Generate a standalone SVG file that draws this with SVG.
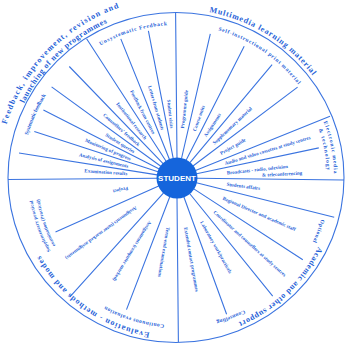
<svg xmlns="http://www.w3.org/2000/svg" width="353" height="347" viewBox="0 0 353 347">
<style>
.sp{stroke:#3b74e0;stroke-width:1.1;fill:none}
.lb{font-family:"Liberation Serif",serif;font-weight:bold;font-size:5px;fill:#1f5fd8}
.cat{font-family:"Liberation Serif",serif;font-weight:bold;font-size:8px;fill:#1f5fd8}
.sub{font-family:"Liberation Serif",serif;font-weight:bold;font-size:5.5px;fill:#1f5fd8}
</style>
<defs>
<path id="pFb1" d="M6.5,124.5 A180,180 0 0 1 121.4,6.8"/>
<path id="pFb2" d="M24.2,103.5 A170,170 0 0 1 110.6,21.5"/>
<path id="pMm" d="M209.2,12.1 A170,170 0 0 1 314.5,78.1"/>
<path id="pAc" d="M318.1,246.8 A157,157 0 0 1 235.8,323.6"/>
<path id="pEv" d="M149.7,332.6 A157,157 0 0 1 38.4,251.7"/>
<path id="pUf" d="M100.5,45.5 A153,153 0 0 1 169,25.2"/>
<path id="pSf" d="M28,135.3 A155,155 0 0 1 47,93.6"/>
<path id="pSi" d="M218.2,30.4 A153,153 0 0 1 299.2,86"/>
<path id="pEm1" d="M323.6,121.7 A157,157 0 0 1 334,175.3"/>
<path id="pEm2" d="M318.8,129.2 A150,150 0 0 1 326.9,172.8"/>
<path id="pOp" d="M321.2,219.3 A150,150 0 0 1 306.9,253"/>
<path id="pCo" d="M244.2,309.9 A148,148 0 0 1 205.2,323.3"/>
<path id="pCe" d="M164.2,324.4 A147,147 0 0 1 92.7,298.4"/>
<path id="pSu1" d="M50.6,251 A146,146 0 0 1 32.4,198.3"/>
<path id="pSu2" d="M55.4,245.4 A139,139 0 0 1 39.3,197.3"/>
</defs>
<rect width="353" height="347" fill="#fff"/>
<g id="connectors">
<ellipse class="sp" cx="176" cy="177.5" rx="168" ry="165"/>
<path class="sp" d="M157,178.2L8,179.5M157.2,174.9L19,153M158,171.8L34.3,131.6M159.2,168.9L43.4,109.9M160.8,166.2L51.6,86.9M163.1,163.6L69.3,66.5M166.1,161.2L86.6,38.8M169.5,159.5L120.8,38.9M173.2,158.4L148.4,30.8M177,158L175.6,13M181.5,158.5L210.3,33.8M186.1,160.2L244.2,46.2M189.9,162.7L272.1,64.6M193,166L297.6,87.1M195.5,170.5L330,116.2M196.6,173.8L318.8,147.9M197,178.2L344,180M196.4,182.8L334.2,217.2M193.8,188.9L302.8,259.7M189.6,193.5L272.7,296.1M183.8,196.8L226.6,314.3M177,198L178.4,342M169.8,196.7L126.5,309.6M163.6,192.9L69.9,296.9M158.7,186.1L55.5,232.1"/>
</g>
<g id="categories">
<text class="cat"><textPath href="#pFb1" textLength="168">Feedback, improvement, revision and</textPath></text>
<text class="cat"><textPath href="#pFb2" textLength="118">launching of new programmes</textPath></text>
<text class="cat"><textPath href="#pMm" textLength="124">Multimedia learning material</textPath></text>
<text class="cat"><textPath href="#pAc" textLength="112">Academic and other support</textPath></text>
<text class="cat"><textPath href="#pEv" textLength="138">Evaluation - methods and modes</textPath></text>
</g>
<g id="subgroups">
<text class="sub"><textPath href="#pUf" textLength="70">Unsystematic Feedback</textPath></text>
<text class="sub"><textPath href="#pSf" textLength="44">Systematic feedback</textPath></text>
<text class="sub"><textPath href="#pSi" textLength="98">Self-instructional print material</textPath></text>
<text class="sub"><textPath href="#pEm1" textLength="53">Electronic media</textPath></text>
<text class="sub"><textPath href="#pEm2" textLength="42">&amp; technology</textPath></text>
<text class="sub"><textPath href="#pOp" textLength="24">Optional</textPath></text>
<text class="sub"><textPath href="#pCo" textLength="30">Counselling</textPath></text>
<text class="sub"><textPath href="#pCe" textLength="62">Continuous evaluation</textPath></text>
<text class="sub" style="font-size:4.8px"><textPath href="#pSu1" textLength="54">Supplementary practical</textPath></text>
<text class="sub" style="font-size:4.8px"><textPath href="#pSu2" textLength="49">examination (Practical)</textPath></text>
</g>
<g id="student">
<circle cx="177" cy="178" r="20.5" fill="#1565dc"/>
<text x="177" y="181" text-anchor="middle" font-family="Liberation Sans,Arial,sans-serif" font-weight="bold" font-size="8" fill="#fff">STUDENT</text>
</g>
<g id="labels">
<text class="lb" text-anchor="end" dy="1.7" transform="translate(127.2,173.6) rotate(4)">Examination results</text>
<text class="lb" text-anchor="end" dy="1.7" transform="translate(128.3,166.3) rotate(13.5)">Analysis of assignments</text>
<text class="lb" text-anchor="end" dy="1.7" transform="translate(130.8,158.9) rotate(22.5)">Monitoring of progress</text>
<text class="lb" text-anchor="end" dy="1.7" transform="translate(134.4,151.9) rotate(31.5)">Student queries</text>
<text class="lb" text-anchor="end" dy="1.7" transform="translate(139.3,145.2) rotate(41)">Counsellors' feedback</text>
<text class="lb" text-anchor="end" dy="1.7" transform="translate(145.9,138.9) rotate(51.5)">Institutional research</text>
<text class="lb" text-anchor="end" dy="1.7" transform="translate(153.9,133.6) rotate(62.5)">Feedback from centres</text>
<text class="lb" text-anchor="end" dy="1.7" transform="translate(162.8,130) rotate(73.5)">Letters from students</text>
<text class="lb" text-anchor="end" dy="1.7" transform="translate(171.8,128.3) rotate(84)">Student visits</text>
<text class="lb" dy="1.7" transform="translate(182.2,128.3) rotate(-84)">Programme guide</text>
<text class="lb" dy="1.7" transform="translate(194.1,131) rotate(-70)">Course units</text>
<text class="lb" dy="1.7" transform="translate(204.9,136.2) rotate(-56.5)">Assignments</text>
<text class="lb" dy="1.7" transform="translate(213.3,143.6) rotate(-43.5)">Supplementary material</text>
<text class="lb" dy="1.7" transform="translate(220.5,153.4) rotate(-29.5)">Project guide</text>
<text class="lb" dy="1.7" transform="translate(224.8,163.4) rotate(-17)">Audio and video cassettes at study centres</text>
<text class="lb" dy="1.7" transform="translate(226.7,172.8) rotate(-6)">Broadcasts - radio, television</text>
<text class="lb" dy="1.7" transform="translate(262,175) rotate(-3)">&amp; teleconferencing</text>
<text class="lb" dy="1.7" transform="translate(226.6,184.1) rotate(7)">Students affairs</text>
<text class="lb" dy="1.7" transform="translate(222.9,197.9) rotate(23.5)">Regional Director and academic staff</text>
<text class="lb" dy="1.7" transform="translate(214.2,211.5) rotate(42)">Coordinator and counsellors at study centres</text>
<text class="lb" dy="1.7" transform="translate(201.6,221.5) rotate(60.5)">Laboratory work/practicals</text>
<text class="lb" dy="1.7" transform="translate(185.7,227.2) rotate(80)">Extended contact programmes</text>
<text class="lb" dy="1.7" transform="translate(168.3,227.2) rotate(100)">Term-end examinations</text>
<text class="lb" dy="1.7" transform="translate(150.5,221.3) rotate(121.5)">Assignments (computer marked)</text>
<text class="lb" dy="1.7" transform="translate(136.6,207.4) rotate(144)">Assignments (tutor marked assignments)</text>
<text class="lb" dy="1.7" transform="translate(128,188.4) rotate(168)">Project</text>
</g>
</svg>
